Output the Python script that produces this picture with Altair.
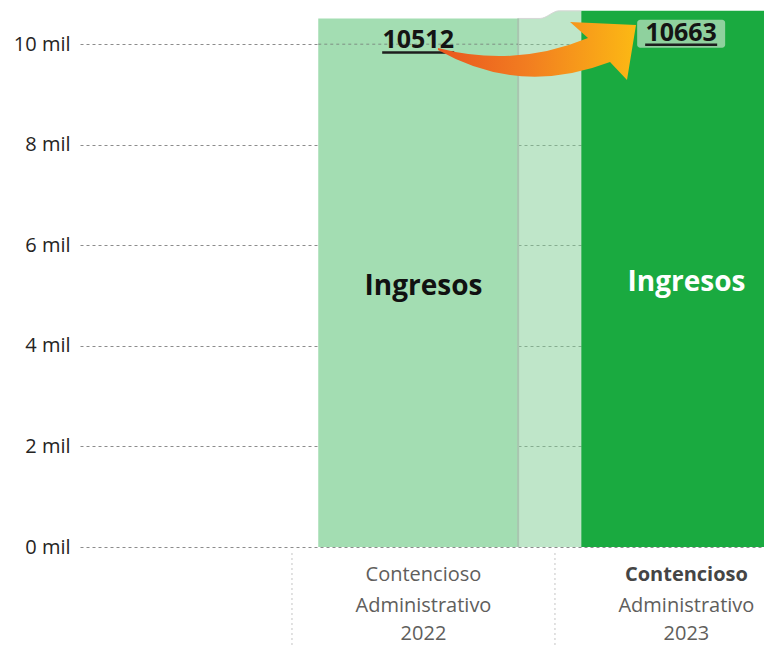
import altair as alt
import pandas as pd

# ---------------- data ----------------
series_name = "Ingresos"
line1 = ["Contencioso", "Contencioso"]
line2 = ["Administrativo", "Administrativo"]
years = ["2022", "2023"]
values = [10512, 10663]
y_ticks = [0, 2000, 4000, 6000, 8000, 10000]

# ---------------- styles ----------------
bar_colors = ["#a3ddb2", "#1aaa40"]
name_colors = ["#111111", "#ffffff"]
FONT = "Open Sans"
pos = [1, 2]
LEFT, RIGHT = 0.40, 0.36
X_DOMAIN = [-0.306, 2.295]
Y_DOMAIN = [0, 10680]
PLOT_W, PLOT_H = 684, 537

xs = alt.Scale(domain=X_DOMAIN, nice=False, zero=False)
ys = alt.Scale(domain=Y_DOMAIN, nice=False, zero=False)
y_axis = alt.Axis(
    values=y_ticks,
    labelExpr="datum.value / 1000 + ' mil'",
    grid=True,
    gridDash=[3, 3],
    gridColor="#8c8c8c",
    gridWidth=1,
    domain=False,
    ticks=False,
    labelFont=FONT,
    labelFontSize=20,
    labelColor="#252423",
    labelPadding=10,
    title=None,
)

bars = pd.DataFrame({
    "pos": pos,
    "value": values,
    "zero": [0, 0],
    "x0": [p - LEFT for p in pos],
    "x1": [p + RIGHT for p in pos],
    "center": [p + (RIGHT - LEFT) / 2 for p in pos],
    "half": [v / 2 for v in values],
    "color": bar_colors,
    "tcolor": name_colors,
    "series": [series_name, series_name],
    "year": years,
    "l1": line1,
    "l2": line2,
    "label": [str(v) for v in values],
})

r1 = bars["x1"][0]
l2 = bars["x0"][1]
gap = l2 - r1
ribbon = pd.DataFrame({
    "x": [r1, r1 + gap * 0.35, l2 - gap * 0.35, l2],
    "y": [values[0], values[0], values[1], values[1]],
})

base = alt.Chart(bars)


def X(field):
    return alt.X(field, scale=xs, axis=None)


def Y(field):
    return alt.Y(field, scale=ys, axis=y_axis)


ribbon_area = alt.Chart(ribbon).mark_area(
    interpolate="monotone", color="#7fcd93", opacity=0.5
).encode(x=X("x:Q"), y=Y("y:Q"))

ribbon_top = alt.Chart(ribbon).mark_line(
    interpolate="monotone", color="#d6d6d6", strokeWidth=1
).encode(x=X("x:Q"), y=Y("y:Q"))

bar_layer = base.mark_rect(clip=True).encode(
    x=X("x0:Q"),
    x2="x1:Q",
    y=Y("value:Q"),
    y2="zero:Q",
    color=alt.Color("color:N", scale=None),
)

edge_rule = base.transform_filter("datum.pos == 1").mark_rule(
    color="#a9c6b0", strokeWidth=2
).encode(x=X("x1:Q"), y=Y("value:Q"), y2="zero:Q")

grid_over = base.transform_filter("datum.pos == 1").transform_calculate(
    g="10000"
).mark_rule(color="#7f8f83", strokeDash=[3, 3], strokeWidth=1).encode(
    x=X("x0:Q"), x2="x1:Q", y=Y("g:Q")
)

name_text = base.mark_text(
    font=FONT, fontSize=28, fontWeight="bold", baseline="middle", dy=4
).encode(
    x=X("pos:Q"),
    y=Y("half:Q"),
    text="series:N",
    color=alt.Color("tcolor:N", scale=None),
)

label_box = base.transform_filter("datum.pos == 2").mark_rect(
    color="#8fd19e", cornerRadius=3, xOffset=-44, x2Offset=44, yOffset=9, y2Offset=37
).encode(x=X("center:Q"), x2="center:Q", y=Y("value:Q"), y2="value:Q")

value_text = base.mark_text(
    font=FONT, fontSize=25, fontWeight="bold", baseline="middle", dy=22, color="#141414"
).encode(x=X("center:Q"), y=Y("value:Q"), text="label:N")

underline = base.mark_rule(
    color="#1e1e1e", strokeWidth=2.5, xOffset=-36, x2Offset=36, yOffset=34
).encode(x=X("center:Q"), x2="center:Q", y=Y("value:Q"))

arrow_path = (
    "M -0.970 -0.030 Q -0.208 0.170 0.515 -0.129 L 0.337 -0.287 "
    "L 0.990 -0.257 L 0.901 0.287 L 0.733 0.109 Q -0.158 0.450 -0.970 -0.010 Z"
)
arrow = alt.Chart(pd.DataFrame({"a": [0]})).mark_point(
    shape=arrow_path,
    size=40804,
    filled=True,
    opacity=1,
    strokeWidth=0,
    fill=alt.Gradient(
        gradient="linear",
        stops=[
            alt.GradientStop(color="#e9561f", offset=0),
            alt.GradientStop(color="#f27d20", offset=0.45),
            alt.GradientStop(color="#fcb914", offset=1),
        ],
        x1=0, x2=1, y1=0, y2=0,
    ),
).encode(x=alt.value(456), y=alt.value(41))


def xlab(field, yv, weight, color, flt=None):
    c = base
    if flt:
        c = c.transform_filter(flt)
    return c.mark_text(
        font=FONT, fontSize=20, fontWeight=weight, color=color, baseline="middle"
    ).encode(x=X("pos:Q"), y=alt.value(yv), text=f"{field}:N")


x_l1a = xlab("l1", 565, "normal", "#605e5c", "datum.pos == 1")
x_l1b = xlab("l1", 565, "bold", "#454545", "datum.pos == 2")
x_l2 = xlab("l2", 596, "normal", "#605e5c")
x_l3 = xlab("year", 624, "normal", "#605e5c")


def separator(expr):
    return base.transform_filter("datum.pos == 1").transform_calculate(
        s=expr
    ).mark_rule(color="#d8d8d8", strokeDash=[2, 3], strokeWidth=1.5).encode(
        x=X("s:Q"), y=alt.value(543), y2=alt.value(640)
    )


sep0 = separator("datum.pos - 0.5")
sep1 = separator("datum.pos + 0.5")

chart = alt.layer(
    bar_layer, ribbon_area, ribbon_top, edge_rule, grid_over, name_text,
    label_box, value_text, underline, arrow, x_l1a, x_l1b, x_l2, x_l3, sep0, sep1
).properties(
    width=PLOT_W,
    height=PLOT_H,
    autosize=alt.AutoSizeParams(type="none"),
    padding={"left": 72, "top": 2, "right": 0, "bottom": 101},
).configure_view(stroke=None)

chart.save("out.html", embed_options={"renderer": "svg", "actions": False})
